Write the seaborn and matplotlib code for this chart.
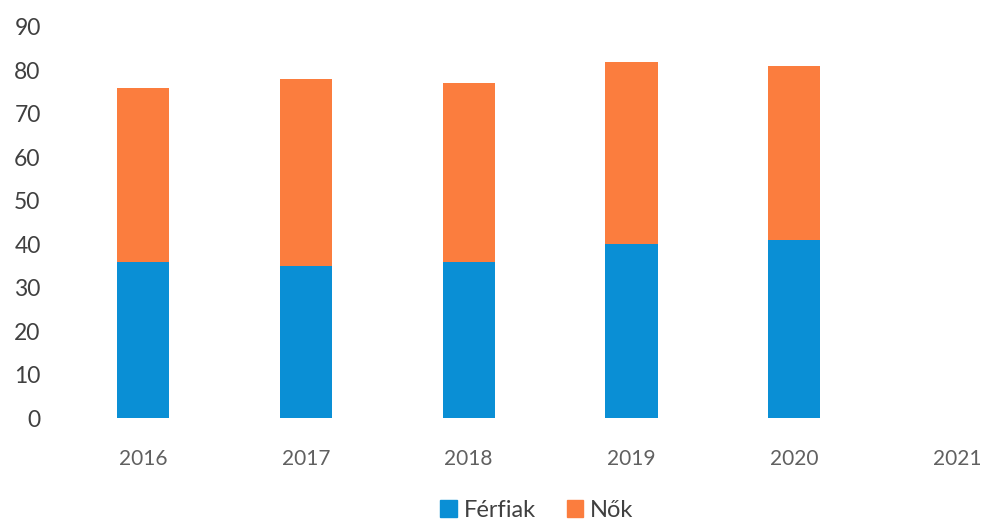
import pandas as pd
import matplotlib
matplotlib.use("Agg")
import matplotlib.pyplot as plt
import seaborn as sns
from matplotlib.patches import Patch

years = ['2016', '2017', '2018', '2019', '2020', '2021']
data_years = ['2016', '2017', '2018', '2019', '2020']
ferfiak = [36, 35, 36, 40, 41]
nok = [40, 43, 41, 42, 40]

blue = '#0A8FD5'
orange = '#FB7D3E'

df = pd.DataFrame({'Év': data_years, 'Férfiak': ferfiak, 'Nők': nok})
df['Összes'] = df['Férfiak'] + df['Nők']

sns.set_style('white')
plt.rcParams['font.family'] = ['Lato', 'DejaVu Sans']

fig = plt.figure(figsize=(9.85, 5.26), dpi=100)
ax = fig.add_axes([0.0624, 0.2053, 0.9376, 0.7434])

# stacked: totals in orange, men drawn over them in blue
sns.barplot(data=df, x='Év', y='Összes', order=years, color=orange,
            width=0.32, saturation=1, linewidth=0, ax=ax)
sns.barplot(data=df, x='Év', y='Férfiak', order=years, color=blue,
            width=0.32, saturation=1, linewidth=0, ax=ax)

ax.set_ylim(0, 90)
ax.set_yticks(range(0, 91, 10))
ax.set_xlim(-0.5, 5.17)
ax.set_xlabel('')
ax.set_ylabel('')
sns.despine(ax=ax, left=True, bottom=True)
ax.tick_params(axis='y', labelsize=16.5, labelcolor='#404040', length=0, pad=15)
ax.tick_params(axis='x', labelsize=15, labelcolor='#606060', length=0, pad=22)

handles = [Patch(color=blue, label='Férfiak'), Patch(color=orange, label='Nők')]
fig.legend(handles=handles, loc='lower center', bbox_to_anchor=(0.545, -0.03),
           ncol=2, frameon=False, fontsize=17, handlelength=0.7, handleheight=0.7,
           handletextpad=0.3, columnspacing=1.3, labelcolor='#404040')

fig.savefig('out.png', dpi=100)
